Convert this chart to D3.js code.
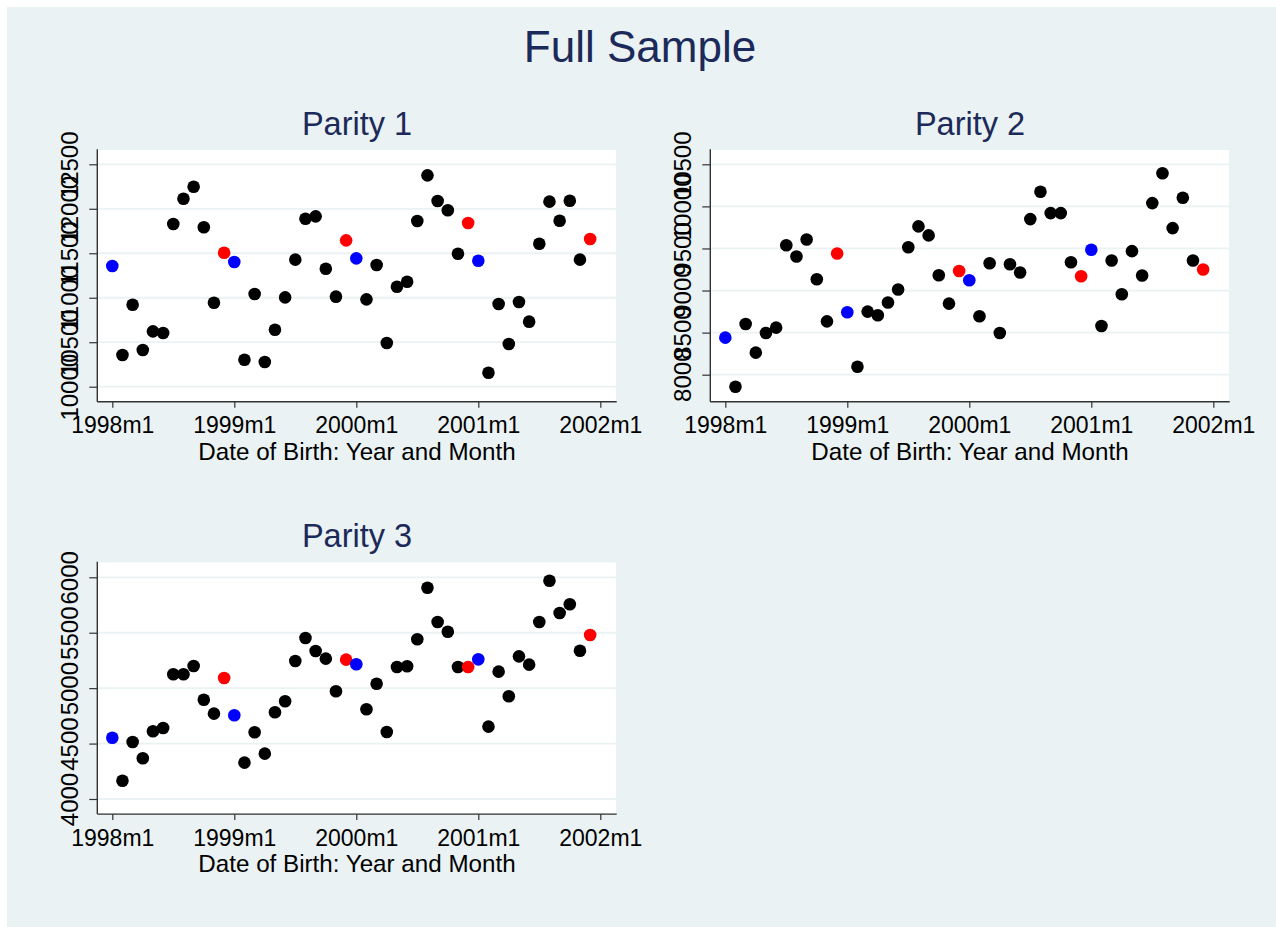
<!DOCTYPE html>
<html>
<head>
<meta charset="utf-8">
<script src="https://cdn.jsdelivr.net/npm/d3@7"></script>
<style>
  html, body { margin: 0; padding: 0; background: #ffffff; }
  svg { display: block; }
  text { font-family: "Liberation Sans", Arial, sans-serif; }
</style>
</head>
<body>
<svg id="chart" width="1276" height="927"></svg>
<script>
// ---------------- DATA ----------------
const mainTitle = "Full Sample";
const xAxisTitle = "Date of Birth: Year and Month";
const xTickValues = [0, 12, 24, 36, 48];
const xTickLabels = ["1998m1", "1999m1", "2000m1", "2001m1", "2002m1"];
// month index 0 = 1998m1 ... 47 = 2001m12
const months = d3.range(48);

const parity1 = [11357, 10356, 10922, 10412, 10622, 10603, 11829, 12113, 12248, 11792, 10944, 11506,
                 11402, 10303, 11042, 10277, 10641, 11004, 11428, 11888, 11915, 11326, 11012, 11645,
                 11443, 10982, 11368, 10491, 11124, 11180, 11862, 12376, 12087, 11983, 11495, 11840,
                 11416, 10157, 10929, 10480, 10952, 10731, 11607, 12080, 11866, 12091, 11428, 11660];
const parity2 = [8440, 7857, 8602, 8262, 8495, 8559, 9539, 9405, 9607, 9135, 8634, 9440,
                 8742, 8095, 8750, 8706, 8857, 9012, 9515, 9762, 9655, 9182, 8845, 9233,
                 9122, 8694, 9325, 8495, 9313, 9214, 9849, 10174, 9920, 9920, 9337, 9170,
                 9484, 8579, 9357, 8956, 9468, 9179, 10039, 10393, 9742, 10103, 9357, 9250];
const parity3 = [4553, 4165, 4514, 4367, 4611, 4641, 5125, 5125, 5200, 4896, 4770, 5092,
                 4755, 4328, 4602, 4409, 4782, 4882, 5245, 5452, 5335, 5266, 4972, 5257,
                 5215, 4809, 5040, 4605, 5191, 5197, 5441, 5906, 5597, 5509, 5191, 5191,
                 5260, 4653, 5149, 4927, 5287, 5212, 5597, 5969, 5678, 5757, 5338, 5480];

const panelTitles = ["Parity 1", "Parity 2", "Parity 3"];
const yTicks1 = [10000, 10500, 11000, 11500, 12000, 12500];
const yTicks2 = [8000, 8500, 9000, 9500, 10000, 10500];
const yTicks3 = [4000, 4500, 5000, 5500, 6000];

// ---------------- STYLE ----------------
const bg = "#eaf2f3";
const gridColor = "#eaf2f3";
const titleColor = "#1c2a5a";
const colorJan = "#0000ff";
const colorDec = "#ff0000";
const colorOther = "#000000";

const svg = d3.select("#chart");
svg.append("rect").attr("x", 7).attr("y", 7).attr("width", 1276 - 7).attr("height", 927 - 7).attr("fill", bg);

svg.append("text")
  .attr("x", 640).attr("y", 62)
  .attr("text-anchor", "middle")
  .attr("font-size", 44)
  .attr("fill", titleColor)
  .text(mainTitle);

const plotW = 519.4, plotH = 252.4;
const panels = [
  { left: 97.3, top: 149.3, data: parity1, ticks: yTicks1, title: panelTitles[0], tickPx: [386.7 - 149.3, 164.3 - 149.3] },
  { left: 710.3, top: 149.3, data: parity2, ticks: yTicks2, title: panelTitles[1], tickPx: [374.7 - 149.3, 164.3 - 149.3] },
  { left: 97.3, top: 561.7, data: parity3, ticks: yTicks3, title: panelTitles[2], tickPx: [799.0 - 561.7, 577.3 - 561.7] }
];

panels.forEach(p => {
  const g = svg.append("g").attr("transform", `translate(${p.left},${p.top})`);
  const x = d3.scaleLinear().domain([0, 48]).range([15, plotW - 16.4]);
  const tmin = p.ticks[0], tmax = p.ticks[p.ticks.length - 1];
  const y = d3.scaleLinear().domain([tmin, tmax]).range(p.tickPx);

  // plot region
  g.append("rect").attr("x", 0).attr("y", 0).attr("width", plotW).attr("height", plotH)
    .attr("fill", "#ffffff").attr("stroke", gridColor).attr("stroke-width", 1.5);

  // grid
  g.append("g").selectAll("line").data(p.ticks).join("line")
    .attr("x1", 0).attr("x2", plotW)
    .attr("y1", d => y(d)).attr("y2", d => y(d))
    .attr("stroke", gridColor).attr("stroke-width", 1.8);

  // y axis
  const ya = g.append("g").call(d3.axisLeft(y).tickValues(p.ticks).tickSize(8).tickFormat(d3.format("d")));
  ya.select(".domain").remove();
  ya.selectAll(".tick line").attr("stroke", "#333").attr("stroke-width", 1.2);
  ya.selectAll(".tick text")
    .attr("transform", "rotate(-90)")
    .attr("x", 0).attr("y", -19.5).attr("dy", 0)
    .attr("text-anchor", "middle")
    .attr("font-size", 24).attr("fill", "#000")
    .attr("font-family", '"Liberation Sans", Arial, sans-serif');
  g.append("line").attr("x1", 0).attr("x2", 0).attr("y1", 0).attr("y2", plotH)
    .attr("stroke", "#333").attr("stroke-width", 1.4);

  // x axis
  const xa = g.append("g").attr("transform", `translate(0,${plotH})`)
    .call(d3.axisBottom(x).tickValues(xTickValues).tickSize(6).tickFormat((d, i) => xTickLabels[i]));
  xa.select(".domain").remove();
  xa.selectAll(".tick line").attr("stroke", "#333").attr("stroke-width", 1.2);
  xa.selectAll(".tick text")
    .attr("y", 31.6).attr("dy", 0)
    .attr("font-size", 23).attr("fill", "#000")
    .attr("font-family", '"Liberation Sans", Arial, sans-serif');
  g.append("line").attr("x1", 0).attr("x2", plotW).attr("y1", plotH).attr("y2", plotH)
    .attr("stroke", "#333").attr("stroke-width", 1.4);

  // axis title
  g.append("text").attr("x", plotW / 2).attr("y", plotH + 58.3)
    .attr("text-anchor", "middle").attr("font-size", 24.2).attr("fill", "#000")
    .text(xAxisTitle);

  // panel title
  g.append("text").attr("x", plotW / 2).attr("y", -14.5)
    .attr("text-anchor", "middle").attr("font-size", 32.5).attr("fill", titleColor)
    .text(p.title);

  // points
  g.append("g").selectAll("circle").data(months).join("circle")
    .attr("cx", d => x(d))
    .attr("cy", d => y(p.data[d]))
    .attr("r", 6.3)
    .attr("fill", d => (d % 12 === 0 ? colorJan : (d % 12 === 11 ? colorDec : colorOther)));
});
</script>
</body>
</html>
